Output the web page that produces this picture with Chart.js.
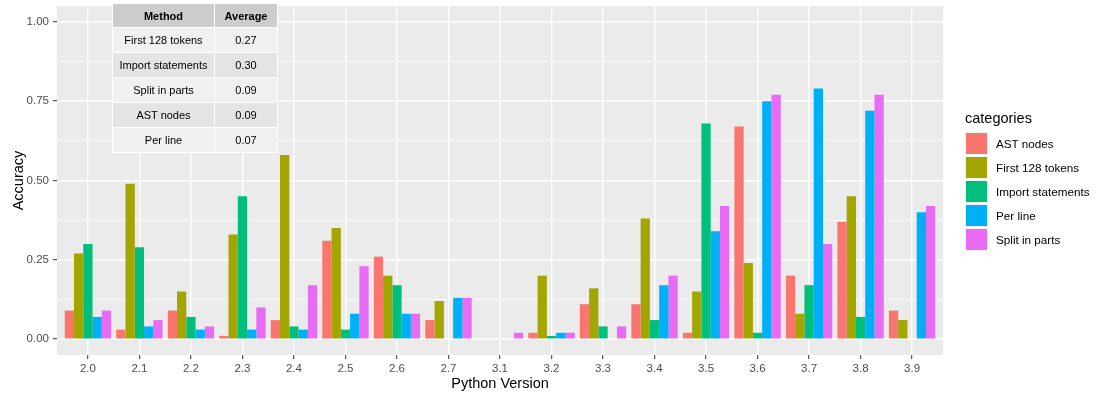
<!DOCTYPE html>
<html>
<head>
<meta charset="utf-8">
<script src="https://cdn.jsdelivr.net/npm/chart.js@4/dist/chart.umd.min.js"></script>
<style>
  html, body { margin: 0; padding: 0; background: #ffffff; }
  #wrap { position: relative; width: 1102px; height: 394px; font-family: "Liberation Sans", Arial, sans-serif; }
  #c { position: absolute; left: 0; top: 0; }
  #tbl { position: absolute; left: 112px; top: 3px; border-collapse: collapse; font-size: 11px; color: #000; }
  #tbl td, #tbl th { border: 1px solid #ffffff; text-align: center; padding: 0; height: 24px; }
  #tbl th { background: #cccccc; font-weight: bold; height: 23px; }
  #tbl td.c1, #tbl th.c1 { width: 101px; }
  #tbl td.c2, #tbl th.c2 { width: 62px; }
  #legend { position: absolute; left: 965px; top: 108px; color: #000; }
  #legend .ttl { font-size: 14.5px; height: 20px; line-height: 20px; margin-bottom: 3px; }
  #legend .row { display: flex; align-items: center; height: 24px; }
  #legend .key { width: 23px; height: 23px; box-sizing: border-box; border: 1px solid #f2f2f2; margin-right: 8px; }
  #legend .lab { font-size: 11.7px; }
</style>
</head>
<body>
<div id="wrap">
  <canvas id="c" width="1102" height="394"></canvas>
  <table id="tbl"></table>
  <div id="legend"></div>
</div>
<script>
// ---- data ----
const versions = ['2.0','2.1','2.2','2.3','2.4','2.5','2.6','2.7','3.1','3.2','3.3','3.4','3.5','3.6','3.7','3.8','3.9'];
const seriesNames = ['AST nodes','First 128 tokens','Import statements','Per line','Split in parts'];
const astNodes        = [0.09,0.03,0.09,0.01,0.06,0.31,0.26,0.06,0,   0.02,0.11,0.11,0.02,0.67,0.20,0.37,0.09];
const first128Tokens  = [0.27,0.49,0.15,0.33,0.58,0.35,0.20,0.12,0,   0.20,0.16,0.38,0.15,0.24,0.08,0.45,0.06];
const importStatements= [0.30,0.29,0.07,0.45,0.04,0.03,0.17,0,   0,   0.01,0.04,0.06,0.68,0.02,0.17,0.07,0];
const perLine         = [0.07,0.04,0.03,0.03,0.03,0.08,0.08,0.13,0,   0.02,0,   0.17,0.34,0.75,0.79,0.72,0.40];
const splitInParts    = [0.09,0.06,0.04,0.10,0.17,0.23,0.08,0.13,0.02,0.02,0.04,0.20,0.42,0.77,0.30,0.77,0.42];
const yTickValues = [0, 0.25, 0.5, 0.75, 1.0];
const yMinorValues = [0.125, 0.375, 0.625, 0.875];
const tableMethods = ['First 128 tokens','Import statements','Split in parts','AST nodes','Per line'];
const tableAverages = ['0.27','0.30','0.09','0.09','0.07'];

const colors = ['#F8766D','#A3A500','#00BF7D','#00B0F6','#E76BF3'];
const allSeries = [astNodes, first128Tokens, importStatements, perLine, splitInParts];

// ---- table ----
const tbl = document.getElementById('tbl');
let html = '<tr><th class="c1">Method</th><th class="c2">Average</th></tr>';
tableMethods.forEach((m, i) => {
  const bg = i % 2 === 0 ? '#f0f0f0' : '#e4e4e4';
  html += `<tr><td class="c1" style="background:${bg}">${m}</td><td class="c2" style="background:${bg}">${tableAverages[i]}</td></tr>`;
});
tbl.innerHTML = html;

// ---- legend ----
const lg = document.getElementById('legend');
let lh = '<div class="ttl">categories</div>';
seriesNames.forEach((n, i) => {
  lh += `<div class="row"><div class="key" style="background:${colors[i]}"></div><div class="lab">${n}</div></div>`;
});
lg.innerHTML = lh;

// ---- chart ----
const panelBg = {
  id: 'panelBg',
  beforeDraw(chart) {
    const {ctx, chartArea: a} = chart;
    ctx.save();
    ctx.fillStyle = '#EBEBEB';
    ctx.fillRect(a.left, a.top, a.right - a.left, a.bottom - a.top);
    ctx.restore();
  }
};

const datasets = seriesNames.map((n, i) => ({
  label: n,
  data: allSeries[i].map((v, k) => ({x: k, y: v})),
  backgroundColor: colors[i],
  borderWidth: 0,
  categoryPercentage: 0.9,
  barPercentage: 1.0
}));

const isMajor = v => yTickValues.some(t => Math.abs(t - v) < 1e-9);

new Chart(document.getElementById('c'), {
  type: 'bar',
  data: { datasets },
  plugins: [panelBg],
  options: {
    responsive: false,
    animation: false,
    layout: { padding: { top: 6, right: 159, bottom: 0, left: 0 } },
    plugins: { legend: { display: false }, tooltip: { enabled: false } },
    scales: {
      x: {
        type: 'linear',
        min: -0.6,
        max: versions.length - 1 + 0.6,
        offset: false,
        afterBuildTicks: axis => { axis.ticks = versions.map((v, i) => ({ value: i })); },
        afterFit: s => { s.height = 39; s.paddingLeft = 0; s.paddingRight = 0; },
        ticks: {
          autoSkip: false,
          maxRotation: 0,
          padding: 3,
          color: '#4D4D4D',
          font: { family: 'Liberation Sans', size: 11.5 },
          callback: v => versions[Math.round(v)]
        },
        grid: {
          offset: false,
          color: '#FFFFFF',
          lineWidth: 1.4,
          tickLength: 4,
          tickColor: '#333333',
          tickWidth: 1
        },
        border: { display: false },
        title: {
          display: true,
          text: 'Python Version',
          color: '#000000',
          font: { family: 'Liberation Sans', size: 14.5 },
          padding: { top: 0, bottom: 1 }
        }
      },
      y: {
        min: -0.05,
        max: 1.05,
        afterBuildTicks: axis => {
          axis.ticks = yTickValues.concat(yMinorValues).sort((a, b) => a - b).map(v => ({ value: v }));
        },
        afterFit: s => { s.width = 57; s.paddingTop = 0; s.paddingBottom = 0; },
        ticks: {
          padding: 4,
          color: '#4D4D4D',
          font: { family: 'Liberation Sans', size: 11.5 },
          callback: v => isMajor(v) ? v.toFixed(2) : ''
        },
        grid: {
          color: '#FFFFFF',
          lineWidth: ctx => isMajor(ctx.tick.value) ? 1.4 : 0.7,
          tickLength: 4,
          tickColor: ctx => isMajor(ctx.tick.value) ? '#333333' : 'rgba(0,0,0,0)',
          tickWidth: 1
        },
        border: { display: false },
        title: {
          display: true,
          text: 'Accuracy',
          color: '#000000',
          font: { family: 'Liberation Sans', size: 14.5 },
          padding: { top: 10, bottom: 0 }
        }
      }
    }
  }
});
</script>
</body>
</html>
